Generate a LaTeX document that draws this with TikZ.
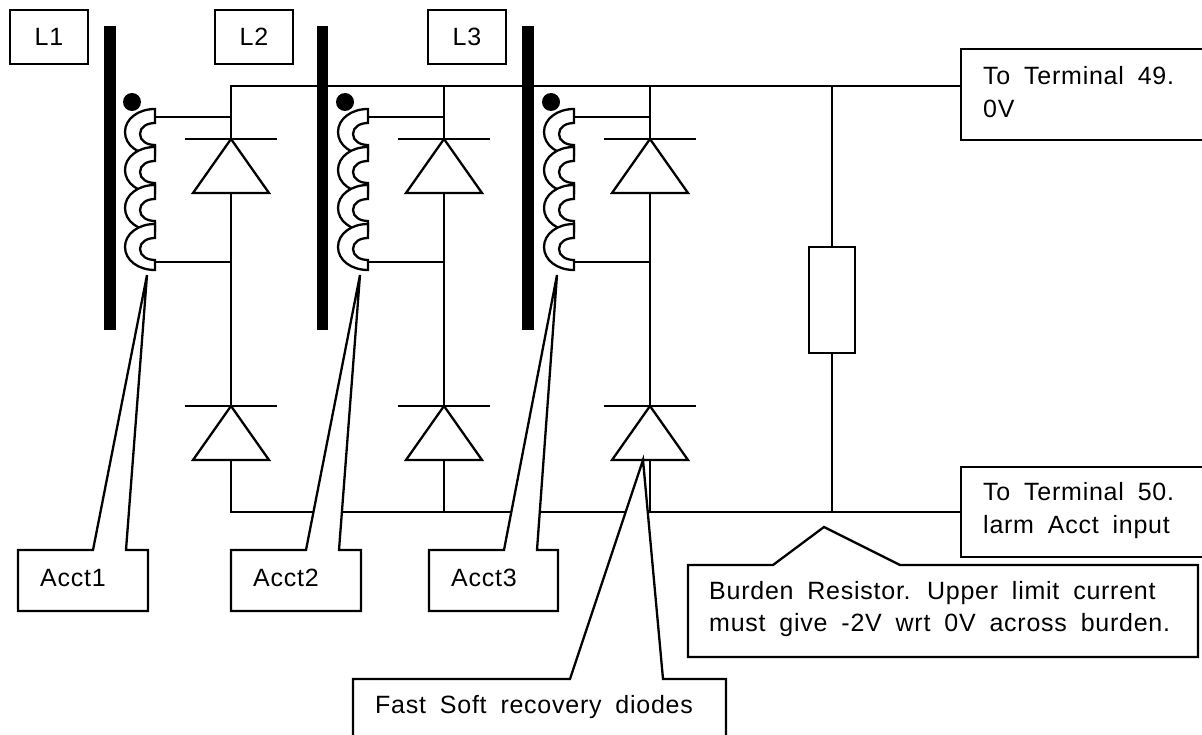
\documentclass[tikz,border=0pt]{standalone}
\usepackage{fontspec}
\setmainfont[LetterSpace=3,WordSpace=1.8]{Liberation Sans}
\tikzset{
 x=1pt,y=-1pt,
 wire/.style={line width=2.3pt,line cap=butt,line join=miter},
 boxed/.style={wire,draw=black,fill=white},
 lab/.style={font=\fontsize{25}{32.5}\selectfont,align=left,inner sep=0pt,anchor=west},
 lbox/.style={boxed,minimum width=78pt,minimum height=54pt,inner sep=0pt,font=\fontsize{25}{32.5}\selectfont},
 core/.style={fill=black},
 cres/.style={wire,draw=black,fill=white},
}
\newcommand{\crescent}[2]{% x of right edge, y of top
 \path[cres] (#1,#2) .. controls (#1-17,#2) and (#1-30,#2+10) .. (#1-30,#2+23)
   .. controls (#1-30,#2+36) and (#1-17,#2+46) .. (#1,#2+46) -- (#1,#2+36)
   .. controls (#1-8,#2+36) and (#1-15,#2+32) .. (#1-15,#2+25)
   .. controls (#1-15,#2+18) and (#1-8,#2+14) .. (#1,#2+14) -- cycle;}
\newcommand{\coil}[1]{%
 \crescent{#1}{109}\crescent{#1}{147}\crescent{#1}{185}\crescent{#1}{224}}
\newcommand{\diode}[2]{% x, bar y
 \draw[wire,fill=white] (#1,#2) -- (#1+38,#2+54) -- (#1-38,#2+54) -- cycle;
 \draw[wire] (#1-46,#2) -- (#1+46,#2);}
\begin{document}
\begin{tikzpicture}
\useasboundingbox (0,0) rectangle (1202,735);
\fill[white] (0,0) rectangle (1202,735);
% wiring
\draw[wire] (231,117) -- (231,86) -- (961,86);
\draw[wire] (231,459) -- (231,512) -- (961,512);
\foreach \xx in {231,444,650}{
 \draw[wire] (\xx,86) -- (\xx,139);
 \draw[wire] (\xx,193) -- (\xx,406);
 \draw[wire] (\xx,459) -- (\xx,512);
 \diode{\xx}{139}
 \diode{\xx}{406}
}
\draw[wire] (155,117) -- (231,117);
\draw[wire] (155,262) -- (231,262);
\draw[wire] (368,117) -- (444,117);
\draw[wire] (368,262) -- (444,262);
\draw[wire] (574,117) -- (650,117);
\draw[wire] (574,262) -- (650,262);
\draw[wire] (832,86) -- (832,512);
\node[boxed,minimum width=46pt,minimum height=106pt,inner sep=0pt] (burden) at (832,300) {};
% cores
\fill[core] (104,26) rectangle (116,330);
\fill[core] (317,26) rectangle (328,330);
\fill[core] (522,26) rectangle (533.5,330);
\fill (132,102) circle (9);
\fill (345,102) circle (9);
\fill (551,102) circle (9);
\coil{155}
\coil{368}
\coil{574}
% labels
\node[lbox] (l1) at (49,37) {L1};
\node[lbox] (l2) at (254,37) {L2};
\node[lbox] (l3) at (467,37) {L3};
% terminals
\draw[boxed] (1204,49) -- (961,49) -- (961,140) -- (1204,140);
\node[lab] (t49) at (983,92) {To Terminal 49.\\0V};
\draw[boxed] (1204,467) -- (961,467) -- (961,557) -- (1204,557);
\node[lab] (t50) at (983,510.5) {To Terminal 50.\\larm Acct input};
% callouts
\draw[boxed] (18,550) -- (93,550) -- (147,275) -- (126,550) -- (148,550) -- (148,611) -- (18,611) -- cycle;
\node[lab] (a1) at (40,578) {Acct1};
\draw[boxed] (231,550) -- (306,550) -- (360,275) -- (339,550) -- (361,550) -- (361,611) -- (231,611) -- cycle;
\node[lab] (a2) at (253,578) {Acct2};
\draw[boxed] (429,550) -- (504,550) -- (557,275) -- (537,550) -- (558,550) -- (558,611) -- (429,611) -- cycle;
\node[lab] (a3) at (451,578) {Acct3};
\draw[boxed] (688,565) -- (773,565) -- (824,527) -- (900,565) -- (1198,565) -- (1198,657) -- (688,657) -- cycle;
\node[lab] (bt) at (709,609) {Burden Resistor. Upper limit current\\must give -2V wrt 0V across burden.};
\draw[boxed] (353,737) -- (353,679) -- (570,679) -- (643,460) -- (663,679) -- (726,679) -- (726,737);
\node[lab] (ft) at (375,707) {Fast Soft recovery diodes};
\end{tikzpicture}
\end{document}
